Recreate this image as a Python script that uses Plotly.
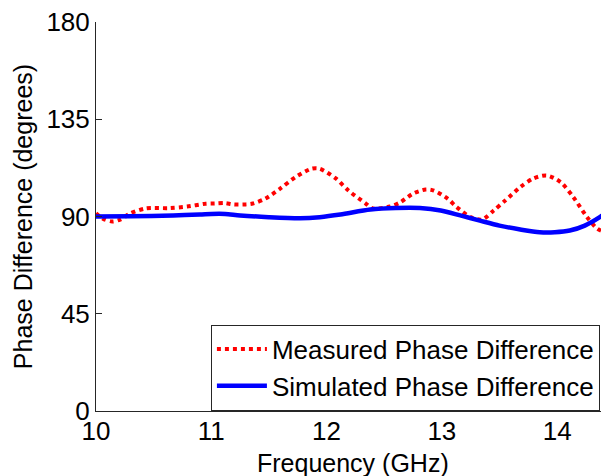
import plotly.graph_objects as go

# Measured phase difference (red dotted)
meas_freq = [10.0, 10.06, 10.14, 10.21, 10.3, 10.43, 10.64, 10.79, 10.95, 11.03, 11.12, 11.19,
             11.3, 11.36, 11.47, 11.6, 11.73, 11.87, 11.94, 12.08, 12.19, 12.34, 12.4, 12.55,
             12.64, 12.75, 12.86, 12.93, 13.05, 13.13, 13.25, 13.35, 13.45, 13.55, 13.68,
             13.79, 13.91, 14.03, 14.14, 14.26, 14.35, 14.45]
meas_phase = [91.5, 89.0, 87.7, 88.6, 91.5, 93.7, 93.9, 94.6, 95.9, 96.0, 96.2, 95.6,
              95.6, 96.0, 98.3, 103.0, 108.2, 112.1, 112.1, 107.6, 102.0, 96.0, 93.7, 94.6,
              96.6, 100.6, 102.5, 102.0, 98.3, 94.3, 89.7, 88.6, 92.8, 97.4, 103.6,
              107.5, 109.0, 105.9, 99.0, 89.7, 84.3, 82.0]

# Simulated phase difference (blue solid)
sim_freq = [10.0, 10.3, 10.67, 10.9, 11.0, 11.12, 11.25, 11.5, 11.77, 11.94, 12.12, 12.38,
            12.6, 12.81, 12.99, 13.16, 13.33, 13.5, 13.68, 13.85, 13.98, 14.11, 14.24,
            14.37, 14.45]
sim_phase = [90.0, 90.1, 90.5, 90.9, 91.2, 91.2, 90.5, 89.7, 89.2, 89.7, 90.9, 93.2,
             93.9, 93.9, 92.8, 90.5, 88.1, 85.8, 84.0, 82.7, 82.7, 83.5, 85.8,
             89.7, 92.8]

x_ticks = [10, 11, 12, 13, 14]
y_ticks = [0, 45, 90, 135, 180]
x_title = "Frequency (GHz)"
y_title = "Phase Difference (degrees)"

FONT = "Liberation Sans, Arial, sans-serif"
AX = "#262626"

fig = go.Figure()
fig.add_trace(go.Scatter(x=meas_freq, y=meas_phase, mode="lines",
                         name="Measured Phase Difference",
                         line=dict(color="#ff0000", width=4, dash="dot", shape="spline", smoothing=0.8)))
fig.add_trace(go.Scatter(x=sim_freq, y=sim_phase, mode="lines",
                         name="Simulated Phase Difference",
                         line=dict(color="#0000ff", width=4.5, shape="spline", smoothing=0.8)))

fig.update_layout(
    width=601, height=468,
    margin=dict(l=88, r=0, t=14, b=65),
    paper_bgcolor="white", plot_bgcolor="white",
    font=dict(family=FONT, size=26, color="black"),
    showlegend=True,
    legend=dict(x=0.224, y=0.222, xanchor="left", yanchor="top",
                bgcolor="white", bordercolor=AX, borderwidth=1,
                font=dict(family=FONT, size=26, color="black"),
                itemwidth=50, tracegroupgap=0),
    xaxis=dict(range=[10, 14.45], tickvals=x_ticks, ticktext=[str(v) for v in x_ticks],
               ticks="inside", ticklen=6, tickcolor=AX, showline=True, linecolor=AX,
               linewidth=1, showgrid=False, zeroline=False, automargin=False,
               ticklabelstandoff=-3, ticklabeloverflow="allow"),
    yaxis=dict(range=[0, 180], tickvals=y_ticks, ticktext=[str(v) for v in y_ticks],
               ticks="inside", ticklen=6, tickcolor=AX, showline=True, linecolor=AX,
               linewidth=1, showgrid=False, zeroline=False, automargin=False,
               ticklabeloverflow="allow",
               title=dict(text=y_title, font=dict(size=25), standoff=6)),
    annotations=[dict(text=x_title, xref="paper", yref="paper", x=0.5, y=0,
                      xanchor="center", yanchor="top", yshift=-36, showarrow=False,
                      font=dict(family=FONT, size=25, color="black"))],
)

fig.write_html("out.html")
